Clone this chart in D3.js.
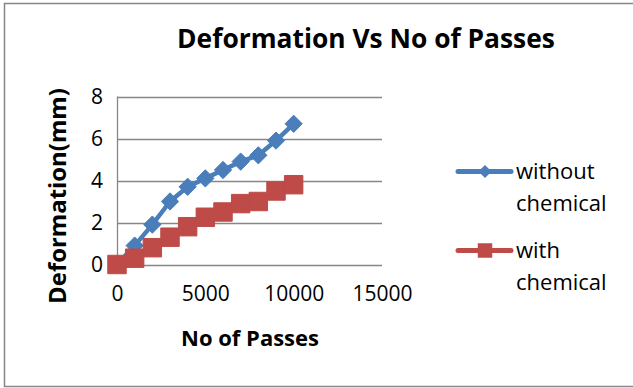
<!DOCTYPE html>
<html>
<head>
<meta charset="utf-8">
<script src="https://cdn.jsdelivr.net/npm/d3@7"></script>
<style>
  html, body { margin: 0; padding: 0; background: #fff; }
  svg { display: block; }
  text { font-family: "Open Sans", "Liberation Sans", sans-serif; fill: #000; }
</style>
</head>
<body>
<svg id="chart" width="633" height="388"></svg>
<script>
// Number of passes (x) and measured deformation in mm for each series
const passes = [0, 1000, 2000, 3000, 4000, 5000, 6000, 7000, 8000, 9000, 10000];
const withoutChemical = [0, 0.9, 1.9, 3.0, 3.7, 4.1, 4.5, 4.9, 5.2, 5.9, 6.7];
const withChemical = [0, 0.3, 0.8, 1.3, 1.8, 2.25, 2.5, 2.9, 3.0, 3.5, 3.8];
const xTicks = [0, 5000, 10000, 15000];
const yTicks = [0, 2, 4, 6, 8];
const seriesNames = ["without chemical", "with chemical"];

const svg = d3.select("#chart");

// outer chart frame
svg.append("rect")
  .attr("x", 4.5).attr("y", 3.5)
  .attr("width", 640).attr("height", 383)
  .attr("fill", "#fff")
  .attr("stroke", "#868686").attr("stroke-width", 1.5);

const plot = { left: 117, right: 382, top: 96.5, bottom: 264.5 };

const x = d3.scaleLinear().domain([0, 15000]).range([plot.left, plot.right]);
const y = d3.scaleLinear().domain([0, 8]).range([plot.bottom, plot.top]);

// horizontal gridlines
svg.append("g")
  .selectAll("line")
  .data(yTicks)
  .join("line")
  .attr("x1", plot.left).attr("x2", plot.right)
  .attr("y1", d => Math.round(y(d)) + 0.5).attr("y2", d => Math.round(y(d)) + 0.5)
  .attr("stroke", "#868686").attr("stroke-width", 1.3);

// vertical value axis line
svg.append("line")
  .attr("x1", plot.left + 0.5).attr("x2", plot.left + 0.5)
  .attr("y1", y(8)).attr("y2", y(0))
  .attr("stroke", "#868686").attr("stroke-width", 1.3);

// axis tick labels via d3 axes (domain and tick marks hidden)
const yAxis = svg.append("g")
  .attr("transform", `translate(${plot.left - 8},0)`)
  .call(d3.axisLeft(y).tickValues(yTicks).tickSize(0).tickPadding(6).tickFormat(d3.format("d")));
yAxis.select(".domain").remove();
yAxis.selectAll("text")
  .attr("font-size", 21).attr("font-family", "Open Sans").attr("fill", "#000").attr("dy", "0.34em");

const xAxis = svg.append("g")
  .attr("transform", `translate(0,${plot.bottom + 22})`)
  .call(d3.axisBottom(x).tickValues(xTicks).tickSize(0).tickPadding(0).tickFormat(d3.format("d")));
xAxis.select(".domain").remove();
xAxis.selectAll("text")
  .attr("font-size", 21).attr("font-family", "Open Sans").attr("fill", "#000").attr("dy", "0.71em");

// titles, scaled to their intended widths
function fitText(sel, width) {
  const w = sel.node().getComputedTextLength();
  const fs = parseFloat(sel.attr("font-size"));
  sel.attr("font-size", fs * width / w);
}

const title = svg.append("text")
  .attr("x", 366).attr("y", 48)
  .attr("text-anchor", "middle")
  .attr("font-size", 24).attr("font-weight", "bold")
  .text("Deformation Vs No of Passes");
fitText(title, 378);

const xTitle = svg.append("text")
  .attr("x", 250).attr("y", 346)
  .attr("text-anchor", "middle")
  .attr("font-size", 20).attr("font-weight", "bold")
  .text("No of Passes");
fitText(xTitle, 138);

const yTitle = svg.append("text")
  .attr("transform", "translate(66,196) rotate(-90)")
  .attr("text-anchor", "middle")
  .attr("font-size", 20).attr("font-weight", "bold")
  .text("Deformation(mm)");
fitText(yTitle, 216);

// series
const blue = "#4A7EBB", red = "#BE4B48";
const line = d3.line().x(d => x(d[0])).y(d => y(d[1]));

const series = [
  { name: seriesNames[0], values: withoutChemical, color: blue,
    shape: d3.symbol().type(d3.symbolDiamond2).size(190),
    legendShape: d3.symbol().type(d3.symbolDiamond2).size(110) },
  { name: seriesNames[1], values: withChemical, color: red,
    shape: d3.symbol().type(d3.symbolSquare).size(340),
    legendShape: d3.symbol().type(d3.symbolSquare).size(210) }
];

series.forEach(s => {
  const pts = passes.map((p, i) => [p, s.values[i]]);
  const g = svg.append("g");
  g.append("path")
    .attr("d", line(pts))
    .attr("fill", "none")
    .attr("stroke", s.color).attr("stroke-width", 4.5)
    .attr("stroke-linejoin", "round").attr("stroke-linecap", "round");
  g.selectAll("path.mk")
    .data(pts)
    .join("path")
    .attr("class", "mk")
    .attr("transform", d => `translate(${x(d[0])},${y(d[1])})`)
    .attr("d", s.shape())
    .attr("fill", s.color)
    .attr("stroke", s.color).attr("stroke-width", 1);
});

// legend
const legend = svg.append("g");
const legendRows = [
  { s: series[0], y: 171.5, lines: ["without", "chemical"] },
  { s: series[1], y: 250.5, lines: ["with", "chemical"] }
];
legendRows.forEach(r => {
  legend.append("line")
    .attr("x1", 458).attr("x2", 511)
    .attr("y1", r.y).attr("y2", r.y)
    .attr("stroke", r.s.color).attr("stroke-width", 5)
    .attr("stroke-linecap", "round");
  legend.append("path")
    .attr("transform", `translate(485,${r.y})`)
    .attr("d", r.s.legendShape())
    .attr("fill", r.s.color);
  r.lines.forEach((t, i) => {
    legend.append("text")
      .attr("x", 516).attr("y", r.y + 7.5 + i * 32)
      .attr("font-size", 22)
      .text(t);
  });
});
</script>
</body>
</html>
